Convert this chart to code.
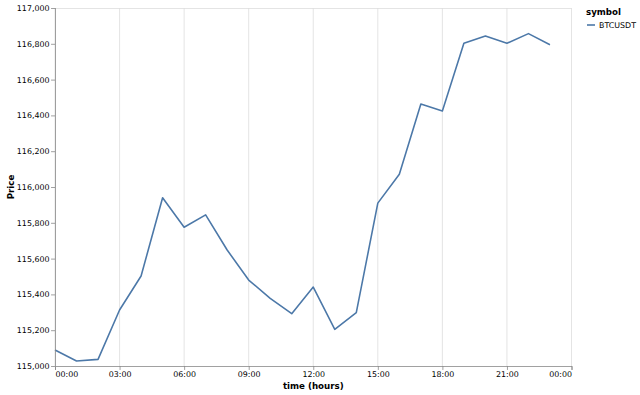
<!DOCTYPE html>
<html>
<head>
<meta charset="utf-8">
<script src="https://cdn.jsdelivr.net/npm/d3@7"></script>
<style>
  body { margin: 0; background: #fff; }
  svg { display: block; font-family: "DejaVu Sans", sans-serif; }
</style>
</head>
<body>
<div id="chart"></div>
<script>
// hourly BTCUSDT close
const hours = [0, 1, 2, 3, 4, 5, 6, 7, 8, 9, 10, 11, 12, 13, 14, 15, 16, 17, 18, 19, 20, 21, 22, 23];
const prices = [
  115089, 115028, 115037, 115313, 115503, 115940, 115775, 115844,
  115648, 115480, 115378, 115292, 115441, 115205, 115298, 115910,
  116071, 116464, 116425, 116803, 116844, 116803, 116857, 116795,
];
const yTicks = [115000, 115200, 115400, 115600, 115800, 116000, 116200, 116400, 116600, 116800, 117000];
const symbols = ["BTCUSDT"];

const size = { width: 640, height: 395 };
const margin = { top: 8, left: 55, right: 68.5, bottom: 29 };
const s = 0.79; // everything looks rendered at ~0.79 scale
const font = "DejaVu Sans, sans-serif";

const day = new Date(2025, 0, 1);
const data = hours.map((h, i) => ({
  date: d3.timeHour.offset(day, h),
  price: prices[i],
}));

const svg = d3
  .select("#chart")
  .append("svg")
  .attr("width", size.width)
  .attr("height", size.height);

const x = d3
  .scaleTime()
  .domain([day, d3.timeDay.offset(day, 1)])
  .range([margin.left, size.width - margin.right]);

const y = d3
  .scaleLinear()
  .domain([115000, 117000])
  .range([size.height - margin.bottom, margin.top]);

const xTicks = x.ticks(d3.timeHour.every(3));
const plotTop = y(117000);
const plotBottom = y(115000);

// top border of the view
svg
  .append("line")
  .attr("x1", x.range()[0])
  .attr("x2", x.range()[1])
  .attr("y1", plotTop + 0.5)
  .attr("y2", plotTop + 0.5)
  .attr("stroke", "#ddd")
  .attr("stroke-width", s);

// vertical grid
svg
  .append("g")
  .selectAll("line")
  .data(xTicks)
  .enter()
  .append("line")
  .attr("x1", (d) => x(d))
  .attr("x2", (d) => x(d))
  .attr("y1", plotTop)
  .attr("y2", plotBottom)
  .attr("stroke", "#ddd")
  .attr("stroke-width", s);

// price line
const line = d3
  .line()
  .x((d) => x(d.date))
  .y((d) => y(d.price));

svg
  .append("path")
  .datum(data)
  .attr("d", line)
  .attr("fill", "none")
  .attr("stroke", "#4c78a8")
  .attr("stroke-width", 2 * s)
  .attr("stroke-linejoin", "round");

// x axis
const xAxis = svg
  .append("g")
  .attr("transform", `translate(0, ${plotBottom})`)
  .call(
    d3
      .axisBottom(x)
      .tickValues(xTicks)
      .tickFormat(d3.timeFormat("%H:%M"))
      .tickSize(5 * s)
      .tickPadding(2 * s)
  )
  .attr("font-family", font);
xAxis.selectAll("path, line").attr("stroke", "#888").attr("stroke-width", s);
xAxis
  .selectAll("text")
  .attr("fill", "#000")
  .style("font-size", 10 * s + "px")
  .attr("text-anchor", (d, i) => (i === 0 ? "start" : i === xTicks.length - 1 ? "end" : "middle"));

// y axis
const yAxis = svg
  .append("g")
  .attr("transform", `translate(${margin.left}, 0)`)
  .call(
    d3
      .axisLeft(y)
      .tickValues(yTicks)
      .tickFormat(d3.format(","))
      .tickSize(5 * s)
      .tickPadding(2 * s)
  )
  .attr("font-family", font);
yAxis.selectAll("path, line").attr("stroke", "#888").attr("stroke-width", s);
yAxis.select(".domain").attr("d", `M0.5,${plotTop}V${plotBottom}`);
yAxis.selectAll("text").attr("fill", "#000").style("font-size", 10 * s + "px");

// axis titles
svg
  .append("text")
  .text("time (hours)")
  .attr("x", (x.range()[0] + x.range()[1]) / 2)
  .attr("y", 388.5)
  .attr("text-anchor", "middle")
  .style("font-size", 11 * s + "px")
  .style("font-weight", "bold");

svg
  .append("text")
  .text("Price")
  .attr("transform", `translate(13.5, ${(plotTop + plotBottom) / 2}) rotate(-90)`)
  .attr("text-anchor", "middle")
  .style("font-size", 11 * s + "px")
  .style("font-weight", "bold");

// legend
const legend = svg.append("g").attr("transform", "translate(586, 0)");
legend
  .append("text")
  .text("symbol")
  .attr("x", 0)
  .attr("y", 15)
  .style("font-size", 11 * s + "px")
  .style("font-weight", "bold");

const items = legend
  .selectAll(".item")
  .data(symbols)
  .enter()
  .append("g")
  .attr("class", "item")
  .attr("transform", (d, i) => `translate(0, ${25 + i * 13})`);
items
  .append("line")
  .attr("x1", 1)
  .attr("x2", 9)
  .attr("stroke", "#4c78a8")
  .attr("stroke-width", 1.6);
items
  .append("text")
  .text((d) => d)
  .attr("x", 13)
  .attr("dy", "0.35em")
  .style("font-size", 10 * s + "px");
</script>
</body>
</html>
